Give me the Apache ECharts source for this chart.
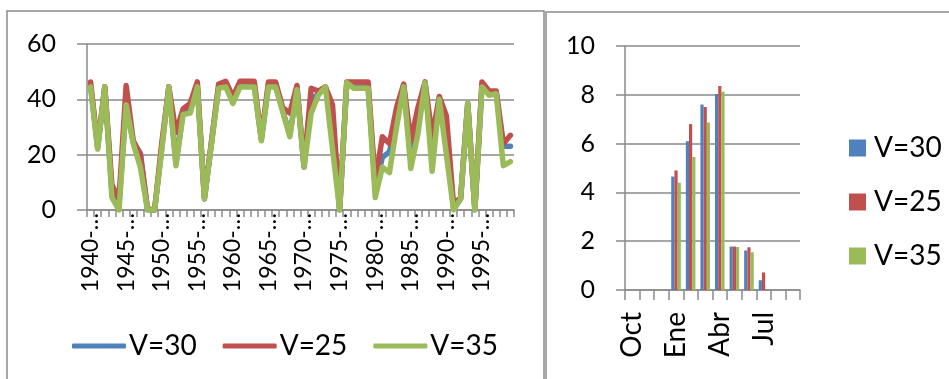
<!DOCTYPE html>
<html>
<head>
<meta charset="utf-8">
<script src="https://cdn.jsdelivr.net/npm/echarts@6/dist/echarts.min.js"></script>
<style>
  html, body { margin: 0; padding: 0; background: #fff; }
  #chart { width: 949px; height: 379px; }
</style>
</head>
<body>
<div id="chart"></div>
<script>
// left panel: yearly series
const years = [
  '1940-41', '1941-42', '1942-43', '1943-44', '1944-45', '1945-46', '1946-47', '1947-48', '1948-49', '1949-50',
  '1950-51', '1951-52', '1952-53', '1953-54', '1954-55', '1955-56', '1956-57', '1957-58', '1958-59', '1959-60',
  '1960-61', '1961-62', '1962-63', '1963-64', '1964-65', '1965-66', '1966-67', '1967-68', '1968-69', '1969-70',
  '1970-71', '1971-72', '1972-73', '1973-74', '1974-75', '1975-76', '1976-77', '1977-78', '1978-79', '1979-80',
  '1980-81', '1981-82', '1982-83', '1983-84', '1984-85', '1985-86', '1986-87', '1987-88', '1988-89', '1989-90',
  '1990-91', '1991-92', '1992-93', '1993-94', '1994-95', '1995-96', '1996-97', '1997-98', '1998-99', '1999-00'
]
const yearV30 = [
  45, 22.5, 44.5, 6.5, 2, 38, 24.5, 20.5, 0, 0,
  22.5, 44.5, 17, 35.5, 36, 45, 4, 24.5, 44.5, 45,
  39, 45, 45, 45, 25.5, 45, 45, 36, 27, 44,
  15.5, 40, 42, 44.5, 30, 0, 46, 44.5, 44.5, 44.5,
  8, 19, 21, 32, 45, 18, 30, 46, 18, 40.5,
  28, 0.5, 4, 38.5, 0, 45, 42, 42.5, 23, 23
]
const yearV25 = [
  46.3, 23, 44.5, 9, 4, 45, 25, 20, 0.5, 0,
  24, 44.5, 28, 36.5, 38.5, 46.3, 4.5, 25, 45.5, 46.5,
  41, 46.5, 46.5, 46.5, 26, 46.3, 46.3, 37, 35, 45,
  16, 44, 43, 44.5, 38, 0.5, 46.3, 46.3, 46.3, 46.3,
  10, 26.5, 24, 37, 45.5, 25, 37, 46.3, 26.5, 41,
  34, 2, 4.5, 38.5, 0.5, 46.3, 43, 43, 24, 27
]
const yearV35 = [
  44.5, 22, 44.5, 4.5, 0, 38, 24, 15.5, 0, 0,
  21.5, 44.5, 16, 34.5, 35, 44.5, 4, 24, 44, 44.5,
  38.5, 44.5, 44.5, 44.5, 25, 44.5, 44.5, 35.5, 26.5, 43.5,
  15.5, 35, 41.5, 44.5, 22, 0, 46, 44, 44, 44,
  4.5, 15.5, 13.5, 30, 44.5, 15, 27.5, 46, 14, 40,
  20, 0, 4, 38.5, 0, 44.5, 41.5, 42, 16, 17.5
]

// right panel: monthly bars
const months = ['Oct', 'Nov', 'Dic', 'Ene', 'Feb', 'Mar', 'Abr', 'May', 'Jun', 'Jul', 'Ago', 'Sep']
const monthV30 = [0, 0, 0, 4.65, 6.1, 7.6, 8.03, 1.78, 1.62, 0.4, 0, 0]
const monthV25 = [0, 0, 0, 4.9, 6.8, 7.5, 8.36, 1.78, 1.75, 0.72, 0, 0]
const monthV35 = [0, 0, 0, 4.4, 5.45, 6.86, 8.13, 1.76, 1.55, 0, 0, 0]

const names = ['V=30', 'V=25', 'V=35']
const COLORS = ['#4f81bd', '#c0504d', '#9bbb59']
const GREY = '#8a8a8a'
const FONT = 'Lato'

const chart = echarts.init(document.getElementById('chart'), null, { renderer: 'canvas' })

const axisLine = { show: true, lineStyle: { color: GREY, width: 1.5 } }
const splitLine = { show: true, lineStyle: { color: GREY, width: 1.5 } }

const lineSeries = [yearV30, yearV25, yearV35].map((d, i) => ({
  name: names[i],
  type: 'line',
  xAxisIndex: 0,
  yAxisIndex: 0,
  data: d,
  showSymbol: false,
  animation: false,
  lineStyle: { color: COLORS[i], width: 5.5, join: 'round', cap: 'round' },
  itemStyle: { color: COLORS[i] },
}))

const barSeries = [monthV30, monthV25, monthV35].map((d, i) => ({
  name: names[i],
  type: 'bar',
  xAxisIndex: 1,
  yAxisIndex: 1,
  data: d,
  barWidth: 3.2,
  barGap: '0%',
  animation: false,
  itemStyle: { color: COLORS[i] },
}))

const option = {
  animation: false,
  textStyle: { fontFamily: FONT },
  graphic: [
    { type: 'rect', shape: { x: 7, y: 11, width: 537, height: 400 }, style: { fill: 'none', stroke: GREY, lineWidth: 1.5 }, silent: true },
    { type: 'rect', shape: { x: 546, y: 12, width: 420, height: 400 }, style: { fill: 'none', stroke: GREY, lineWidth: 1.5 }, silent: true },
  ],
  grid: [
    { left: 87, top: 44, width: 427, height: 166 },
    { left: 625, top: 46, width: 175, height: 244 },
  ],
  legend: [
    {
      data: names,
      left: 67,
      top: 327,
      icon: 'roundRect',
      itemWidth: 54,
      itemHeight: 5,
      itemGap: 26,
      textStyle: { fontFamily: FONT, fontSize: 28, color: '#000', padding: [0, 0, 0, -2] },
      selectedMode: false,
    },
    {
      data: names,
      orient: 'vertical',
      left: 844,
      top: 129,
      icon: 'rect',
      itemWidth: 17,
      itemHeight: 17,
      itemGap: 26,
      textStyle: { fontFamily: FONT, fontSize: 28, color: '#000', padding: [0, 0, 0, 3] },
      selectedMode: false,
    },
  ],
  xAxis: [
    {
      type: 'category',
      gridIndex: 0,
      data: years,
      boundaryGap: true,
      axisLine,
      axisTick: { show: true, interval: 0, length: 7, lineStyle: { color: GREY, width: 1.5 } },
      axisLabel: {
        interval: 4,
        rotate: 90,
        margin: 3,
        fontFamily: FONT,
        fontSize: 23,
        color: '#000',
        formatter: v => v.slice(0, 5) + '…',
      },
      splitLine: { show: false },
    },
    {
      type: 'category',
      gridIndex: 1,
      data: months,
      boundaryGap: true,
      axisLine,
      axisTick: { show: true, interval: 0, length: 10, lineStyle: { color: GREY, width: 1.5 } },
      axisLabel: { interval: 2, rotate: 90, margin: 22, fontFamily: FONT, fontSize: 28, color: '#000' },
      splitLine: { show: false },
    },
  ],
  yAxis: [
    {
      type: 'value',
      gridIndex: 0,
      min: 0,
      max: 60,
      interval: 20,
      axisLine,
      axisTick: { show: true, length: 10, lineStyle: { color: GREY, width: 1.5 } },
      axisLabel: { margin: 31, fontFamily: FONT, fontSize: 25, color: '#000' },
      splitLine,
    },
    {
      type: 'value',
      gridIndex: 1,
      min: 0,
      max: 10,
      interval: 2,
      axisLine,
      axisTick: { show: true, length: 9, lineStyle: { color: GREY, width: 1.5 } },
      axisLabel: { margin: 30, fontFamily: FONT, fontSize: 25, color: '#000' },
      splitLine,
    },
  ],
  series: [...lineSeries, ...barSeries],
}

chart.setOption(option)
window.addEventListener('resize', () => chart.resize())
</script>
</body>
</html>
